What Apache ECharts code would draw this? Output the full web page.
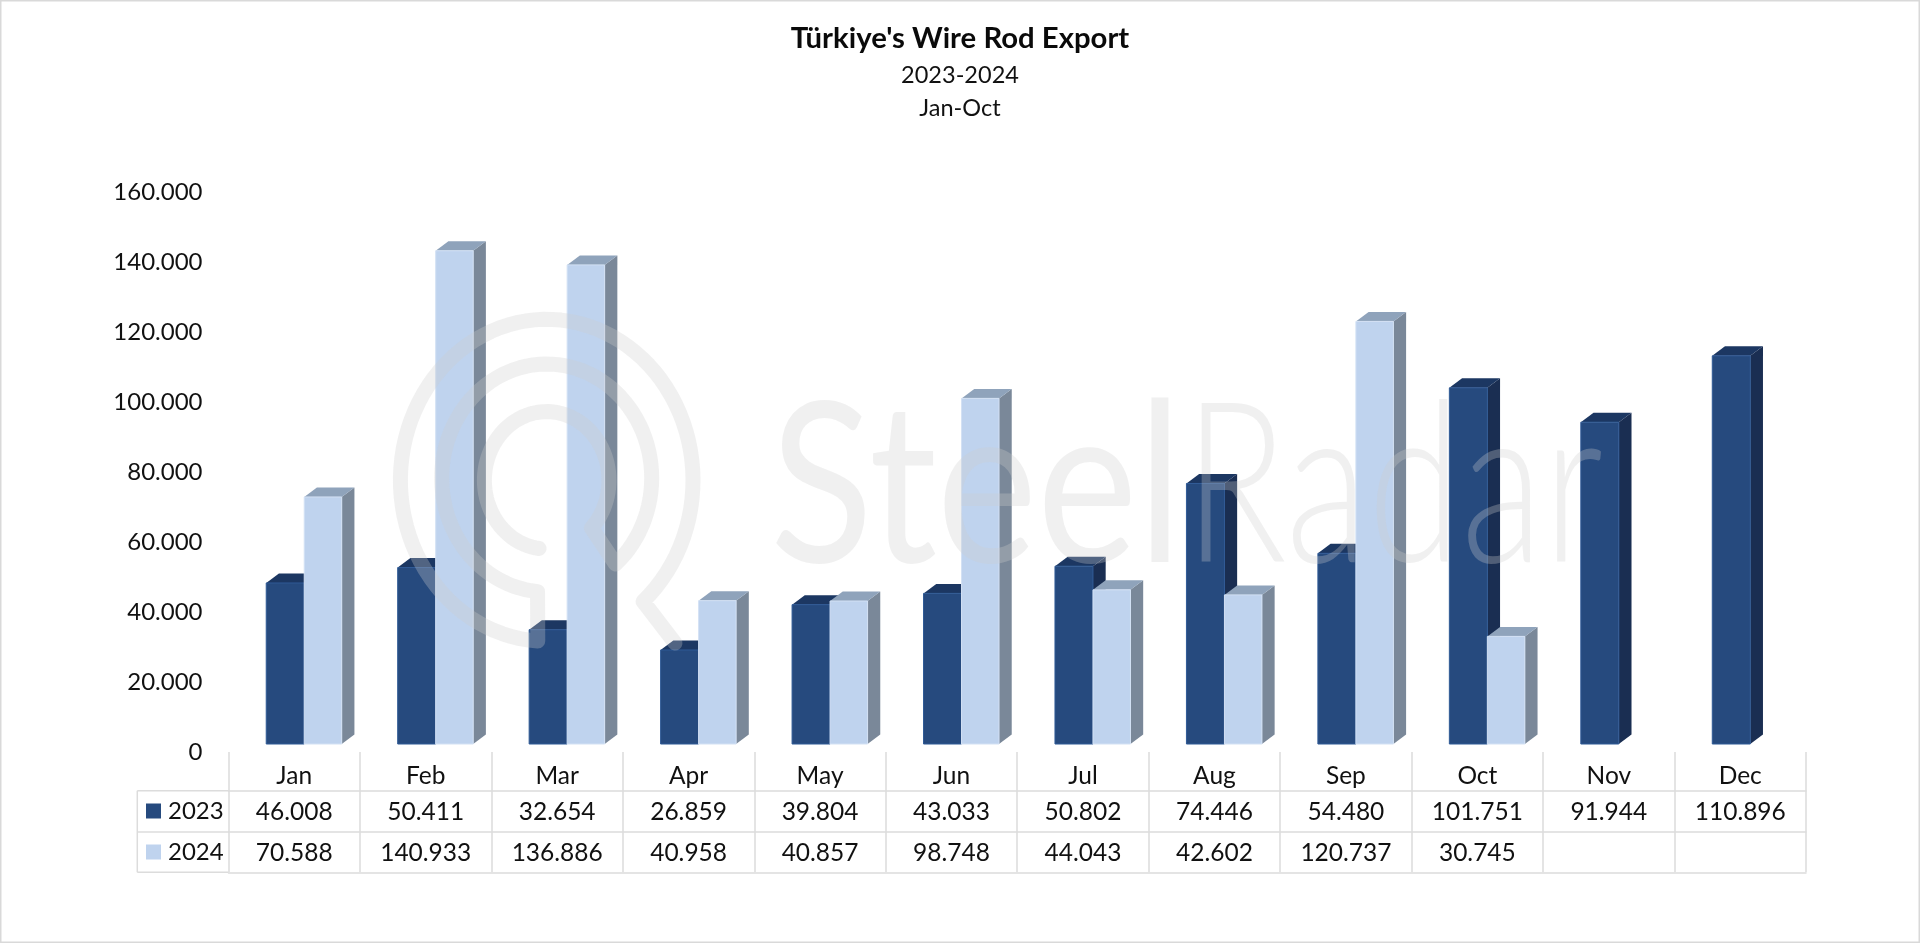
<!DOCTYPE html>
<html><head><meta charset="utf-8">
<style>html,body{margin:0;padding:0;background:#fff}#c{width:1920px;height:943px}</style>
<script src="https://cdn.jsdelivr.net/npm/echarts@6/dist/echarts.min.js"></script>
</head><body><div id="c"></div>
<script>
const months = ['Jan','Feb','Mar','Apr','May','Jun','Jul','Aug','Sep','Oct','Nov','Dec'];
const values2023 = [46008,50411,32654,26859,39804,43033,50802,74446,54480,101751,91944,110896];
const values2024 = [70588,140933,136886,40958,40857,98748,44043,42602,120737,30745,null,null];
const yTicks = {min:0,max:160000,interval:20000};
const FONT = 'Lato';
const fmt = v => v==null ? '' : v.toLocaleString('de-DE');
const grey = '#dcdcdc';
const WM = 'rgba(205,205,205,0.30)';

function bar3d(x0,x1,front,top,side,edge){
  return function(params,api){
    const v = api.value(1);
    if (v==null || isNaN(v)) return;
    const p = api.coord([api.value(0),v]);
    const b = api.coord([api.value(0),0]);
    const l = p[0]+x0, r = p[0]+x1, t = p[1], bt = b[1];
    const dx = 12.7, dy = 9.5;
    return {type:'group',children:[
      {type:'polygon',shape:{points:[[r,t],[r+dx,t-dy],[r+dx,bt-dy],[r,bt]]},style:{fill:side}},
      {type:'polygon',shape:{points:[[l,t],[l+dx,t-dy],[r+dx,t-dy],[r,t]]},style:{fill:top}},
      {type:'rect',shape:{x:l,y:t,width:r-l,height:bt-t},style:{fill:front,stroke:edge,lineWidth:1}}
    ]};
  };
}
const toData = arr => arr.map((v,i)=>[i,v]).filter(d=>d[1]!=null);
const tableAxis = (data,offset,tick,margin,show) => ({
  type:'category',position:'bottom',offset,data,boundaryGap:true,
  axisLine:{show,onZero:false,lineStyle:{color:grey,width:1.5}},
  axisTick:{show:tick>0,length:tick,lineStyle:{color:grey,width:1.5}},
  axisLabel:{show:true,interval:0,margin,fontFamily:FONT,fontSize:24.5,color:'#111',hideOverlap:false},
  splitLine:{show:false}
});
// watermark logo outline
function arc(cx,cy,rx,ry,a0,a1){
  const pts=[],n=90;
  for(let i=0;i<=n;i++){const a=(a0+(a1-a0)*i/n)*Math.PI/180;pts.push([cx+rx*Math.cos(a),cy+ry*Math.sin(a)]);}
  return pts;
}
const logoLine = [].concat(
  arc(546.7,480.3,62.3,68.7,97,404),
  arc(546.7,478,105,114,49,-265),
  arc(546.7,480.3,146.3,161,93.5,408.8),
  [[675,643]]
);
const chart = echarts.init(document.getElementById('c'),null,{renderer:'canvas'});
chart.setOption({
  animation:false,
  backgroundColor:'#fff',
  title:[
    {text:"Türkiye's Wire Rod Export",left:'center',top:19,textStyle:{fontFamily:FONT,fontSize:29.3,fontWeight:'bold',color:'#0a0a0a'}},
    {text:'2023-2024',left:'center',top:58.5,textStyle:{fontFamily:FONT,fontSize:23.5,fontWeight:'normal',color:'#111'}},
    {text:'Jan-Oct',left:'center',top:91,textStyle:{fontFamily:FONT,fontSize:23.5,fontWeight:'normal',color:'#111'}}
  ],
  legend:{
    orient:'vertical',left:146,top:797,padding:0,itemWidth:15,itemHeight:15,itemGap:13,
    data:[{name:'2023',icon:'rect'},{name:'2024',icon:'rect'}],
    textStyle:{fontFamily:FONT,fontSize:24,color:'#111',padding:[0,0,0,2],lineHeight:28},
    selectedMode:false
  },
  grid:{left:228.5,right:114,top:184,bottom:199,containLabel:false},
  xAxis:[
    tableAxis(months,8,38.7,12,false),
    tableAxis(values2023.map(fmt),46.7,41.3,8.4,true),
    tableAxis(values2024.map(fmt),88,40.3,8.4,true),
    tableAxis(months.map(()=>''),128.3,0,0,true)
  ],
  yAxis:{type:'value',min:yTicks.min,max:yTicks.max,interval:yTicks.interval,
    axisLine:{show:false},axisTick:{show:false},splitLine:{show:false},
    axisLabel:{fontFamily:FONT,fontSize:24,color:'#111',margin:26,verticalAlign:'top',lineHeight:17,formatter:fmt}},
  series:[
    {name:'2023',type:'custom',coordinateSystem:'cartesian2d',xAxisIndex:0,yAxisIndex:0,z:2,
     itemStyle:{color:'#264A7E'},encode:{x:0,y:1},data:toData(values2023),clip:false,
     renderItem:bar3d(-28,10,'#264A7E','#1C3762','#1A2E52','#2F5A96')},
    {name:'2024',type:'custom',coordinateSystem:'cartesian2d',xAxisIndex:0,yAxisIndex:0,z:3,
     itemStyle:{color:'#BFD3EE'},encode:{x:0,y:1},data:toData(values2024),clip:false,
     renderItem:bar3d(10,47.5,'#BFD3EE','#8FA3BB','#7A8899','#D3E1F4')}
  ],
  graphic:[
    {type:'rect',z:0,silent:true,shape:{x:0.75,y:0.75,width:1918.5,height:941.5},style:{fill:'none',stroke:'#d9d9d9',lineWidth:1.5}},
    {type:'line',z:1,silent:true,shape:{x1:137.3,y1:790.7,x2:228.5,y2:790.7},style:{stroke:grey,lineWidth:1.5}},
    {type:'line',z:1,silent:true,shape:{x1:137.3,y1:832,x2:228.5,y2:832},style:{stroke:grey,lineWidth:1.5}},
    {type:'line',z:1,silent:true,shape:{x1:137.3,y1:872.3,x2:228.5,y2:872.3},style:{stroke:grey,lineWidth:1.5}},
    {type:'line',z:1,silent:true,shape:{x1:137.3,y1:790.7,x2:137.3,y2:872.3},style:{stroke:grey,lineWidth:1.5}},
    {type:'polyline',z:100,silent:true,shape:{points:logoLine},
     style:{fill:'none',stroke:WM,lineWidth:15,lineCap:'round',lineJoin:'round'}},
    {type:'text',z:100,silent:true,x:770,y:602,scaleX:0.853,scaleY:1,
     style:{text:'Steel',fontFamily:'Lato',fontSize:223,fill:WM,verticalAlign:'bottom'}},
    {type:'text',z:100,silent:true,x:1184,y:602,scaleX:0.76,scaleY:1,
     style:{text:'Radar',fontFamily:'Lato',fontWeight:300,fontSize:223,fill:WM,verticalAlign:'bottom'}}
  ]
});
</script></body></html>
